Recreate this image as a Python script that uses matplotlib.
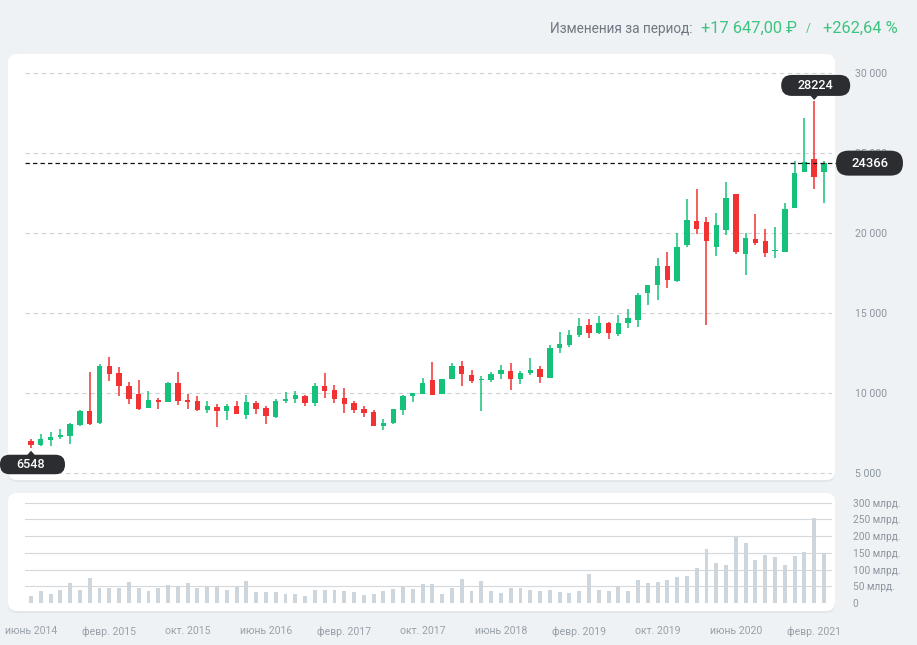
import matplotlib
matplotlib.use('Agg')
import matplotlib.pyplot as plt
import matplotlib.transforms as mtransforms
from matplotlib.patches import FancyBboxPatch, Polygon
import numpy as np

# ---------------- data (monthly, June 2014 .. March 2021) ----------------
opens = [7021, 6730, 7042, 7271, 7292, 8021, 8896, 8125, 11708, 11271,
         10438, 9917, 9083, 9583, 9438, 10625, 9583, 9521, 8958, 9146,
         8854, 9167, 8646, 9396, 9063, 8521, 9500, 9646, 9833, 9354,
         10458, 10188, 9708, 9396, 9000, 8833, 7958, 8104, 8958, 9833,
         9938, 10792, 9917, 10875, 11667, 11146, 10792, 10833, 11167, 11396,
         10875, 11229, 11479, 10958, 12792, 12979, 13604, 14229, 13729, 14354,
         13708, 14354, 14583, 16250, 16729, 17938, 17000, 19229, 20771, 20708,
         19125, 20208, 22438, 18708, 19646, 19521, 18854, 18833, 21583, 23833,
         24646, 23792]
highs = [7125, 7438, 7563, 7750, 8100, 8917, 11333, 11813, 12271, 11646,
         10708, 10833, 10146, 9708, 10667, 11333, 9958, 9792, 9521, 9333,
         9333, 9521, 9875, 9521, 9167, 9646, 10083, 10104, 9854, 10646,
         11229, 10500, 10313, 9521, 9208, 8958, 8396, 9021, 9875, 10000,
         10958, 11958, 10896, 11875, 12000, 11417, 11083, 11292, 11771, 11896,
         11396, 12188, 11667, 13000, 13833, 13938, 14708, 14625, 14833, 14458,
         14896, 15250, 16271, 16750, 18438, 18833, 20000, 22146, 22729, 21021,
         21271, 23188, 22438, 20000, 21167, 20271, 20396, 21875, 24521, 27167,
         28224, 24521]
lows = [6548, 6667, 6667, 7125, 6813, 7917, 7979, 8083, 10729, 9792,
        9313, 8958, 9042, 8979, 9417, 9229, 9021, 8896, 8750, 7875,
        8292, 8688, 8375, 8688, 8083, 8438, 9396, 9375, 9167, 9167,
        9688, 9354, 8729, 8729, 8479, 7917, 7708, 8083, 8646, 9458,
        9917, 9854, 9917, 10854, 10458, 10646, 8854, 10667, 10896, 10208,
        10542, 11125, 10604, 10917, 12500, 12875, 13500, 13438, 13708, 13375,
        13542, 14063, 14104, 15521, 15813, 16542, 16938, 19146, 19958, 14229,
        18542, 19896, 18667, 17375, 19271, 18521, 18417, 18792, 21583, 23792,
        22771, 21875]
closes = [6719, 7125, 7271, 7375, 8083, 8875, 8083, 11667, 11208, 10417,
          9646, 9000, 9563, 9417, 10625, 9500, 9458, 8917, 9208, 8854,
          9188, 8708, 9458, 9000, 8542, 9521, 9646, 9875, 9354, 10438,
          10125, 9646, 9313, 8938, 8750, 7917, 8125, 9000, 9833, 9979,
          10646, 9875, 10896, 11667, 11167, 10771, 10875, 11167, 11458, 10896,
          11271, 11438, 11000, 12792, 13083, 13646, 14167, 13729, 14375, 13729,
          14354, 14708, 16146, 16729, 17938, 17063, 19146, 20833, 20250, 19521,
          20521, 22167, 18792, 19708, 19396, 18771, 18938, 21521, 23750, 24417,
          23500, 24366]
volumes = [22, 35, 28, 39, 60, 39, 75, 46, 45, 44,
           63, 45, 37, 45, 54, 50, 60, 45, 48, 50,
           40, 47, 65, 32, 32, 33, 28, 27, 22, 39,
           40, 39, 36, 33, 25, 26, 37, 42, 50, 43,
           57, 57, 26, 46, 71, 37, 67, 36, 31, 44,
           44, 38, 36, 40, 34, 31, 35, 87, 38, 37,
           50, 37, 68, 60, 64, 68, 79, 82, 105, 160,
           119, 113, 198, 180, 128, 145, 138, 114, 140, 152,
           255, 148]
tick_months = [0, 8, 16, 24, 32, 40, 48, 56, 64, 72, 80]
tick_labels = ['июнь 2014', 'февр. 2015', 'окт. 2015', 'июнь 2016', 'февр. 2017',
               'окт. 2017', 'июнь 2018', 'февр. 2019', 'окт. 2019', 'июнь 2020',
               'февр. 2021']
price_ticks = [5000, 10000, 15000, 20000, 25000, 30000]
vol_ticks = [0, 50, 100, 150, 200, 250, 300]
last_price = 24366
max_price = 28224
min_price = 6548

# ---------------- figure ----------------
W, H = 917, 645
plt.rcParams['font.family'] = ['Roboto', 'DejaVu Sans']
fig = plt.figure(figsize=(W / 100, H / 100), dpi=100, facecolor='#eff2f4')
px = mtransforms.Affine2D().scale(1 / 100) + fig.dpi_scale_trans  # pixels, origin bottom-left


def rect(x0, y0, x1, y1):
    return [x0 / W, 1 - y1 / H, (x1 - x0) / W, (y1 - y0) / H]


# white panels
for (x0, y0, x1, y1) in [(8, 54, 835, 480), (8, 493, 835, 611)]:
    fig.patches.append(FancyBboxPatch((x0, H - y1 - 2), x1 - x0, y1 - y0,
                                      boxstyle='round,pad=0,rounding_size=9',
                                      transform=px, fc='#e3e7ea', ec='none', zorder=-2))
    fig.patches.append(FancyBboxPatch((x0, H - y1), x1 - x0, y1 - y0,
                                      boxstyle='round,pad=0,rounding_size=9',
                                      transform=px, fc='white', ec='none', zorder=-1))

GREEN = '#16c17b'
RED = '#f23232'
GRID = '#cfd2d5'
LABEL = '#8c959f'

# ---------------- price axes ----------------
ax = fig.add_axes(rect(25, 60, 832, 478))
ax.set_facecolor('none')
for s in ax.spines.values():
    s.set_visible(False)
ax.set_xlim(-0.613, 81.82)
ax.set_ylim(4687.5, 30812.5)

for v in price_ticks:
    ax.axhline(v, color=GRID, lw=0.8, ls=(0, (4, 3.3)), zorder=1)

x = np.arange(len(opens))
o = np.array(opens, float)
c = np.array(closes, float)
hi = np.array(highs, float)
lo = np.array(lows, float)
up = c >= o
colors = np.where(up, GREEN, RED)
ax.vlines(x, lo, hi, colors=colors, lw=1.1, zorder=3)
body_bottom = np.minimum(o, c)
body_h = np.maximum(np.abs(c - o), 70)
ax.bar(x, body_h, bottom=body_bottom, width=0.55, color=colors, zorder=4, linewidth=0)

ax.axhline(last_price, xmin=0, xmax=1.005, color='#111111', lw=0.9, ls=(0, (3.5, 2.5)),
           zorder=5, clip_on=False)

ax.set_xticks([])
ax.yaxis.tick_right()
ax.set_yticks(price_ticks)
ax.set_yticklabels([f'{v:,}'.replace(',', ' ') for v in price_ticks])
ax.tick_params(axis='y', length=0, pad=16.5, labelsize=7.6, labelcolor=LABEL)

DARK = '#2b2d31'


def anchor(xv, yv, tr):
    return mtransforms.Affine2D() + mtransforms.ScaledTranslation(xv, yv, tr)


# max label
t = anchor(80, max_price, ax.transData)
ax.add_patch(FancyBboxPatch((-33, 5.5), 69, 21, boxstyle='round,pad=0,rounding_size=10.5',
                            transform=t, fc=DARK, ec='none', clip_on=False, zorder=6))
ax.add_patch(Polygon([(-4, 6), (4, 6), (0, 1.5)], closed=True, transform=t, fc=DARK,
                     ec='none', clip_on=False, zorder=6))
ax.text(1.5, 16, f'{max_price}', transform=t, ha='center', va='center', color='white',
        fontsize=9, fontweight='medium', zorder=7, clip_on=False)

# min label
t = anchor(0, min_price, ax.transData)
ax.add_patch(FancyBboxPatch((-31, -26), 65, 19.5, boxstyle='round,pad=0,rounding_size=9.5',
                            transform=t, fc=DARK, ec='none', clip_on=False, zorder=6))
ax.add_patch(Polygon([(-4, -7), (4, -7), (0, -2.5)], closed=True, transform=t, fc=DARK,
                     ec='none', clip_on=False, zorder=6))
ax.text(0, -16.2, f'{min_price}', transform=t, ha='center', va='center', color='white',
        fontsize=9, fontweight='medium', zorder=7, clip_on=False)

# last price label
t = anchor(1, last_price, mtransforms.blended_transform_factory(ax.transAxes, ax.transData))
ax.add_patch(FancyBboxPatch((4, -12.5), 67, 25, boxstyle='round,pad=0,rounding_size=12.5',
                            transform=t, fc=DARK, ec='none', clip_on=False, zorder=6))
ax.text(37.5, 0, f'{last_price}', transform=t, ha='center', va='center', color='white',
        fontsize=9.4, fontweight='medium', zorder=7, clip_on=False)

# ---------------- volume axes ----------------
axv = fig.add_axes(rect(25, 496, 832, 608))
axv.set_facecolor('none')
for s in axv.spines.values():
    s.set_visible(False)
axv.set_xlim(-0.613, 81.82)
axv.set_ylim(-15, 320)
for v in vol_ticks[1:]:
    axv.axhline(v, color='#d6d9dc', lw=0.8, zorder=1)
axv.bar(x, volumes, width=0.4, color='#cdd5dd', zorder=2, linewidth=0)
axv.yaxis.tick_right()
axv.set_yticks(vol_ticks)
axv.set_yticklabels(['0' if v == 0 else f'{v} млрд.' for v in vol_ticks])
axv.tick_params(axis='y', length=0, pad=15, labelsize=7.3, labelcolor=LABEL)
axv.set_xticks(tick_months)
axv.set_xticklabels(tick_labels)
axv.tick_params(axis='x', length=0, pad=13, labelsize=7.6, labelcolor='#99a1aa')

# ---------------- header ----------------
fy = 1 - 28.5 / H
fig.text(692 / W, fy, 'Изменения за период:', ha='right', va='center', fontsize=9.8,
         color='#6f7882')
fig.text(701 / W, fy, '+17 647,00 ₽', ha='left', va='center', fontsize=11.8,
         color='#3cc481')
fig.text(808 / W, fy, '/', ha='center', va='center', fontsize=8.5, color='#3cc481')
fig.text(898 / W, fy, '+262,64 %', ha='right', va='center', fontsize=11.8,
         color='#3cc481')

fig.savefig('out.png', dpi=100, facecolor=fig.get_facecolor())
